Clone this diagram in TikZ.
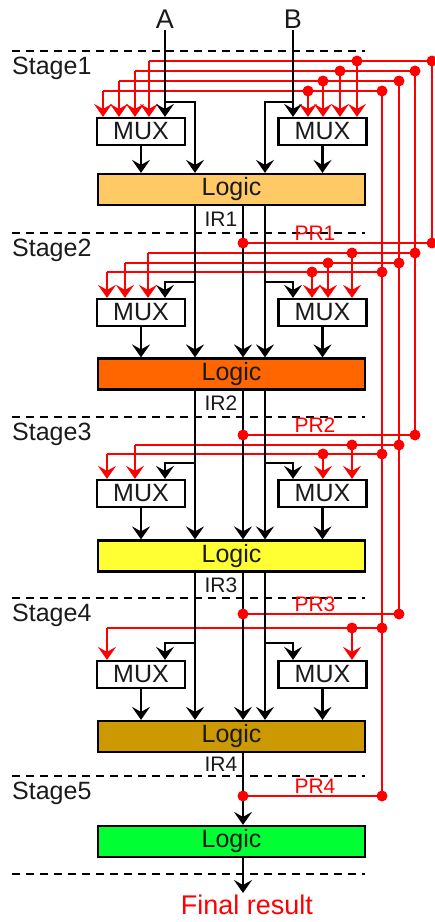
\documentclass[tikz,border=0pt]{standalone}
\usepackage{fontspec}
\setmainfont{Liberation Sans}
\usepackage{xcolor}
\usepackage{tikz}
\usetikzlibrary{arrows.meta}
\definecolor{fbRed}{HTML}{FF0000}
\definecolor{textGrey}{HTML}{1A1A1A}
\definecolor{logicOne}{HTML}{FFC966}
\definecolor{logicTwo}{HTML}{FF6600}
\definecolor{logicThree}{HTML}{FFFF33}
\definecolor{logicFour}{HTML}{CC9900}
\definecolor{logicFive}{HTML}{00FF33}
\tikzset{
  muxbox/.style={rectangle, draw=black, fill=white, line width=2.2pt, minimum width=88pt, minimum height=27pt, inner sep=0pt, text=textGrey, font=\fontsize{25}{25}\selectfont},
  logicbox/.style={rectangle, draw=black, fill=#1, line width=2.2pt, minimum width=267pt, minimum height=31pt, inner sep=0pt, text=textGrey, font=\fontsize{25}{25}\selectfont},
  stageline/.style={draw=black, line width=2.2pt, dash pattern=on 8pt off 6pt},
  stagelabel/.style={font=\fontsize{25}{25}\selectfont, text=textGrey, anchor=base west, inner sep=0pt},
  inlabel/.style={font=\fontsize{27}{27}\selectfont, text=textGrey, inner sep=2pt},
  reglabel/.style={font=\fontsize{21}{21}\selectfont, text=#1, inner sep=0pt},
  % --- wires ---
  flowarrow/.style={-{Stealth[length=13pt,width=18pt,inset=5pt]}, line width=2.2pt, draw=black},
  fbarrow/.style={-{Stealth[length=13pt,width=18pt,inset=5pt]}, line width=2.2pt, draw=fbRed},
  fbline/.style={line width=2.2pt, draw=fbRed},
  tapdot/.style={circle, fill=fbRed, inner sep=0pt, minimum size=11pt},
}

\begin{document}
\begin{tikzpicture}[x=1pt,y=-1pt]
  \useasboundingbox (0,0) rectangle (435,922);

  \foreach \y/\n in {51/1,233/2,417/3,598/4,776/5}{
    \draw[stageline] (12,\y) -- (365,\y);
    \node[stagelabel] (stage\n) at (12,\y+23) {Stage\n};
  }
  \draw[stageline] (12,874) -- (365,874);

  \coordinate (colL) at (165,0);
  \coordinate (colA) at (195,0);
  \coordinate (colM) at (243,0);
  \coordinate (colB) at (265,0);
  \coordinate (colR) at (293,0);

  \node[inlabel] (inA) at (165,19) {A};
  \node[inlabel] (inB) at (293,19) {B};

  \node[muxbox] (muxL1) at (141,131.5) {MUX};
  \node[muxbox] (muxR1) at (322.5,131.5) {MUX};
  \node[logicbox=logicOne] (logic1) at (231.5,189.5) {Logic};

  \node[muxbox] (muxL2) at (141,312.5) {MUX};
  \node[muxbox] (muxR2) at (322.5,312.5) {MUX};
  \node[logicbox=logicTwo] (logic2) at (231.5,374) {Logic};

  \node[muxbox] (muxL3) at (141,493.5) {MUX};
  \node[muxbox] (muxR3) at (322.5,493.5) {MUX};
  \node[logicbox=logicThree] (logic3) at (231.5,556) {Logic};

  \node[muxbox] (muxL4) at (141,674.5) {MUX};
  \node[muxbox] (muxR4) at (322.5,674.5) {MUX};
  \node[logicbox=logicFour] (logic4) at (231.5,736.5) {Logic};

  \node[logicbox=logicFive] (logic5) at (231.5,841.5) {Logic};

  \node[inlabel, text=fbRed, anchor=north] (final) at (247,893) {Final result};

  \node[reglabel=textGrey] (ir1) at (221,219) {IR1};
  \node[reglabel=textGrey] (ir2) at (221,403.5) {IR2};
  \node[reglabel=textGrey] (ir3) at (221,585) {IR3};
  \node[reglabel=textGrey] (ir4) at (221,764) {IR4};

  % feedback from the pipeline registers
  \foreach \n/\y/\xl/\xr/\xv in {1/61/149/357/432, 1/71/135/340/415, 1/81/119/323/399, 1/91/103/308/382,
      2/253/148/352/415, 2/263/125/328/399, 2/272/107/312/382,
      3/445/135/352/399, 3/454/107/323/382, 4/628/107/352/382}{
    \coordinate (fbv) at (\xv,\y);
    \coordinate (fbr) at (\xr,\y);
    \coordinate (fbl) at (\xl,\y);
    \draw[fbline] (fbv) -- (fbl);
    \draw[fbarrow] (fbl) -- (muxL\n.north -| fbl);
    \draw[fbarrow] (fbr) -- (muxR\n.north -| fbr);
  }
  \foreach \k/\y/\xv/\yt in {1/243/432/61, 2/435/415/71, 3/614/399/81, 4/796/382/91}{
    \coordinate (tap\k) at (243,\y);
    \coordinate (ret\k) at (\xv,\y);
    \coordinate (top\k) at (\xv,\yt);
    \draw[fbline] (tap\k) -- (ret\k) -- (top\k);
    \node[reglabel=fbRed, anchor=south] (pr\k) at (315,\y-2) {PR\k};
  }

  \draw[flowarrow] (inA) -- (muxL1.north -| inA);
  \draw[flowarrow] (inB) -- (muxR1.north -| inB);
  \coordinate (splitA) at (165,102);
  \coordinate (splitB) at (293,102);
  \draw[flowarrow] (splitA) -| (logic1.north -| colA);
  \draw[flowarrow] (splitB) -| (logic1.north -| colB);
  \draw[flowarrow] (muxL1) -- (muxL1 |- logic1.north);
  \draw[flowarrow] (muxR1) -- (muxR1 |- logic1.north);

  \foreach \p/\n/\y in {1/2/282, 2/3/463, 3/4/643}{
    \draw[flowarrow] (logic\p.south -| colA) -- (logic\n.north -| colA);
    \draw[flowarrow] (logic\p.south -| colM) -- (logic\n.north -| colM);
    \draw[flowarrow] (logic\p.south -| colB) -- (logic\n.north -| colB);
    \coordinate (brL\n) at (195,\y);
    \coordinate (brR\n) at (265,\y);
    \draw[flowarrow] (brL\n) -| (muxL\n.north -| colL);
    \draw[flowarrow] (brR\n) -| (muxR\n.north -| colR);
    \draw[flowarrow] (muxL\n) -- (muxL\n |- logic\n.north);
    \draw[flowarrow] (muxR\n) -- (muxR\n |- logic\n.north);
  }
  \draw[flowarrow] (logic4.south -| colM) -- (logic5.north -| colM);
  \draw[flowarrow] (logic5.south -| colM) -- (final.north -| colM);

  \foreach \x/\y in {432/61, 415/71, 399/81, 382/91, 357/61, 340/71, 323/81, 308/91,
      415/253, 399/263, 382/272, 352/253, 328/263, 312/272,
      399/445, 382/454, 352/445, 323/454, 382/628, 352/628}{
    \fill[fbRed] (\x,\y) circle (5.5pt);
  }
  \foreach \k in {1,...,4}{
    \node[tapdot] (tapdot\k) at (tap\k) {};
    \node[tapdot] (retdot\k) at (ret\k) {};
  }
\end{tikzpicture}
\end{document}
